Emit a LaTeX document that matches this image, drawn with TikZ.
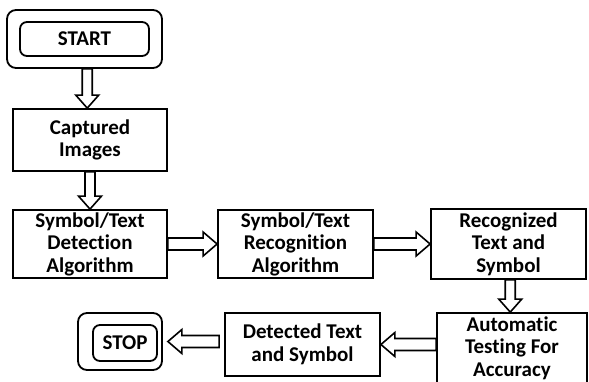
\documentclass[tikz,border=0pt]{standalone}
\usepackage{fontspec}
\setmainfont{Carlito}[Ligatures={NoCommon,NoRare,NoContextual}]
\usetikzlibrary{calc}
\tikzset{
  box/.style={draw, line width=1.8pt, align=center, inner sep=0pt, font=\fontsize{21}{22.5}\selectfont\bfseries},
  rbox/.style={box, rounded corners=7pt},
  barrow/.style={draw, fill=white, line width=1.6pt, line join=miter},
}
\newcommand{\darrow}[2]{\draw[barrow] let \p1=(#1), \p2=(#2) in
  ({(\x1+\x2)/2-5pt},\y1) -- ({(\x1+\x2)/2-5pt},{\y2+13pt}) -- ({(\x1+\x2)/2-11.5pt},{\y2+13pt}) -- ({(\x1+\x2)/2},\y2)
  -- ({(\x1+\x2)/2+11.5pt},{\y2+13pt}) -- ({(\x1+\x2)/2+5pt},{\y2+13pt}) -- ({(\x1+\x2)/2+5pt},\y1) -- cycle;}
\newcommand{\rarrow}[2]{\draw[barrow] let \p1=(#1), \p2=(#2) in
  (\x1,{\y2+6pt}) -- ({\x2-14pt},{\y2+6pt}) -- ({\x2-14pt},{\y2+12pt}) -- (\x2,\y2)
  -- ({\x2-14pt},{\y2-12pt}) -- ({\x2-14pt},{\y2-6pt}) -- (\x1,{\y2-6pt}) -- cycle;}
\newcommand{\larrow}[2]{\draw[barrow] let \p1=(#1), \p2=(#2) in
  (\x1,{\y2+6pt}) -- ({\x2+14pt},{\y2+6pt}) -- ({\x2+14pt},{\y2+12pt}) -- (\x2,\y2)
  -- ({\x2+14pt},{\y2-12pt}) -- ({\x2+14pt},{\y2-6pt}) -- (\x1,{\y2-6pt}) -- cycle;}
\begin{document}
\begin{tikzpicture}[x=1pt,y=-1pt]
\useasboundingbox (0,0) rectangle (589,381);
\clip (0,0) rectangle (589,381);
% START
\node[rbox, rounded corners=9pt, minimum width=155pt, minimum height=58pt] (startout) at (84.5,39) {};
\node[rbox, minimum width=129pt, minimum height=34pt] (start) at (84.5,39) {START};
% boxes
\node[box, minimum width=154pt, minimum height=62pt] (capt) at (90,140) {Captured\\Images};
\node[box, minimum width=154pt, minimum height=68pt] (det) at (90,244) {Symbol/Text\\Detection\\Algorithm};
\node[box, minimum width=155pt, minimum height=68pt] (rec) at (295.5,244) {Symbol/Text\\Recognition\\Algorithm};
\node[box, minimum width=155pt, minimum height=70pt] (recd) at (508.5,244) {Recognized\\Text and\\Symbol};
\node[box, minimum width=150pt, minimum height=70pt] (test) at (512,348) {Automatic\\Testing For\\Accuracy};
\node[box, minimum width=155pt, minimum height=63pt] (detd) at (302.5,344.5) {Detected Text\\and Symbol};
% STOP
\node[rbox, rounded corners=9pt, minimum width=84pt, minimum height=57pt] (stopout) at (120,341.5) {};
\node[rbox, minimum width=64pt, minimum height=36pt] (stop) at (125,343) {STOP};
% arrows
\darrow{startout.south}{capt.north}
\darrow{capt.south}{det.north}
\rarrow{det.east}{rec.west}
\rarrow{rec.east}{recd.west}
\darrow{recd.south}{test.north}
\larrow{test.west}{detd.east}
\larrow{[xshift=-5pt]detd.west}{[xshift=5pt]stopout.east}
\end{tikzpicture}
\end{document}
